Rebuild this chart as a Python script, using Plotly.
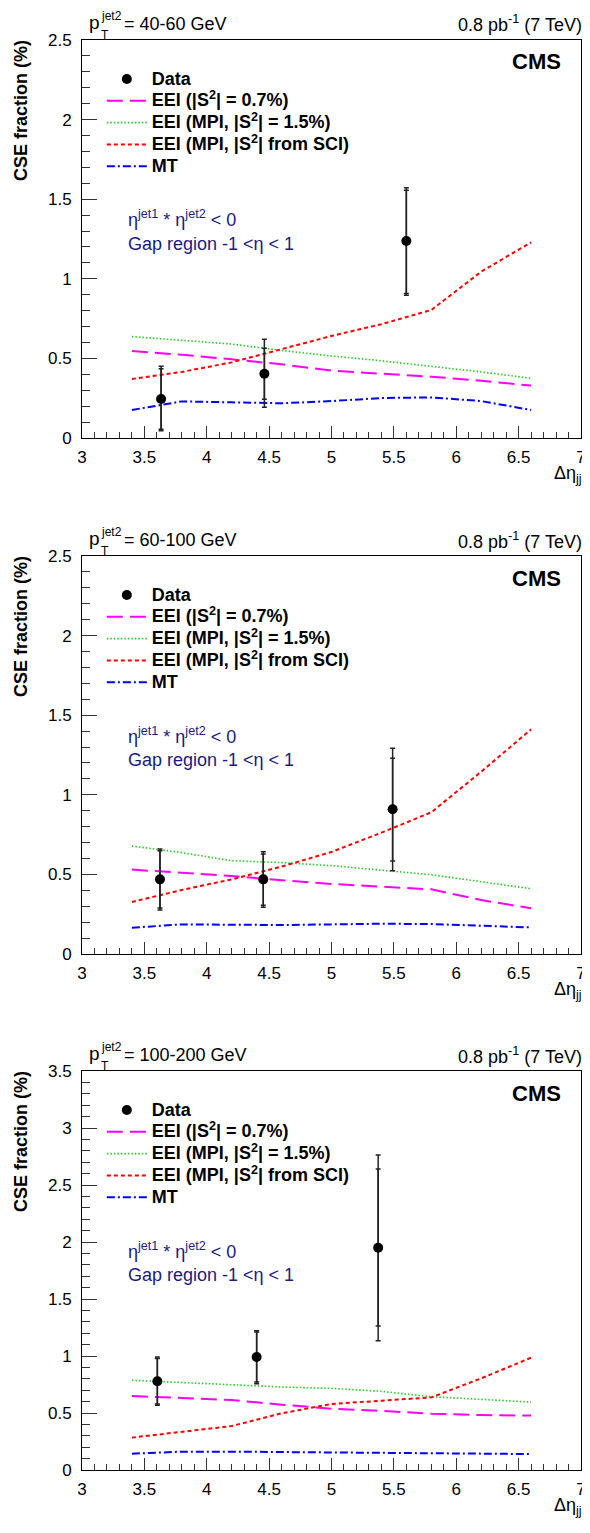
import plotly.graph_objects as go

W, H = 590, 1533
OFF = 8  # default body margin of the html page
# plot frame in page pixels
PL, PR = 82, 585
panel_tops = [40, 556, 1071]
panel_bots = [438, 954, 1470]

ML = PL - OFF
MR = W - (PR - OFF)
MT = panel_tops[0] - OFF
MB = H - (panel_bots[-1] - OFF)
PW = W - ML - MR
PH = H - MT - MB
FONT = "Liberation Sans, Arial, sans-serif"
NAVY = "#1b1b80"

# ---------------- data ----------------
pt_bins = ["40-60", "60-100", "100-200"]
y_max = [2.5, 2.5, 3.5]

curve_x = [3.4, 3.8, 4.2, 4.6, 5.0, 5.4, 5.8, 6.2, 6.6]

# panel 1 : 40-60 GeV
eei07_1 = [0.546, 0.523, 0.494, 0.463, 0.423, 0.406, 0.385, 0.360, 0.329]
eei15_1 = [0.637, 0.615, 0.590, 0.550, 0.515, 0.485, 0.450, 0.415, 0.375]
eeisci_1 = [0.371, 0.415, 0.475, 0.560, 0.641, 0.715, 0.804, 1.045, 1.229]
mt_1 = [0.176, 0.230, 0.224, 0.218, 0.232, 0.251, 0.255, 0.232, 0.176]
data_x_1 = [3.634, 4.462, 5.600]
data_y_1 = [0.245, 0.404, 1.237]
tot_up_1 = [0.205, 0.216, 0.335]
tot_dn_1 = [0.200, 0.211, 0.340]
stat_up_1 = [0.190, 0.160, 0.320]
stat_dn_1 = [0.190, 0.160, 0.330]

# panel 2 : 60-100 GeV
eei07_2 = [0.530, 0.511, 0.490, 0.463, 0.440, 0.423, 0.406, 0.339, 0.287]
eei15_2 = [0.678, 0.637, 0.586, 0.574, 0.555, 0.528, 0.498, 0.454, 0.410]
eeisci_2 = [0.327, 0.402, 0.469, 0.549, 0.641, 0.762, 0.890, 1.145, 1.411]
mt_2 = [0.165, 0.186, 0.184, 0.182, 0.186, 0.190, 0.188, 0.178, 0.167]
data_x_2 = [3.625, 4.453, 5.490]
data_y_2 = [0.469, 0.469, 0.909]
tot_up_2 = [0.190, 0.174, 0.383]
tot_dn_2 = [0.193, 0.176, 0.386]
stat_up_2 = [0.180, 0.159, 0.320]
stat_dn_2 = [0.180, 0.162, 0.325]

# panel 3 : 100-200 GeV
eei07_3 = [0.649, 0.629, 0.614, 0.573, 0.538, 0.518, 0.494, 0.482, 0.477]
eei15_3 = [0.787, 0.766, 0.746, 0.728, 0.716, 0.690, 0.643, 0.620, 0.596]
eeisci_3 = [0.284, 0.336, 0.386, 0.497, 0.579, 0.608, 0.637, 0.804, 0.985]
mt_3 = [0.143, 0.161, 0.161, 0.158, 0.158, 0.155, 0.152, 0.146, 0.140]
data_x_3 = [3.604, 4.400, 5.374]
data_y_3 = [0.778, 0.991, 1.950]
tot_up_3 = [0.213, 0.231, 0.813]
tot_dn_3 = [0.211, 0.234, 0.816]
stat_up_3 = [0.200, 0.220, 0.690]
stat_dn_3 = [0.200, 0.220, 0.687]

panels = [
    dict(eei07=eei07_1, eei15=eei15_1, eeisci=eeisci_1, mt=mt_1, dx=data_x_1, dy=data_y_1,
         tu=tot_up_1, td=tot_dn_1, su=stat_up_1, sd=stat_dn_1),
    dict(eei07=eei07_2, eei15=eei15_2, eeisci=eeisci_2, mt=mt_2, dx=data_x_2, dy=data_y_2,
         tu=tot_up_2, td=tot_dn_2, su=stat_up_2, sd=stat_dn_2),
    dict(eei07=eei07_3, eei15=eei15_3, eeisci=eeisci_3, mt=mt_3, dx=data_x_3, dy=data_y_3,
         tu=tot_up_3, td=tot_dn_3, su=stat_up_3, sd=stat_dn_3),
]

names = ["Data", "EEI (|S<sup>2</sup>| = 0.7%)", "EEI (MPI, |S<sup>2</sup>| = 1.5%)",
         "EEI (MPI, |S<sup>2</sup>| from SCI)", "MT"]


def big(label):
    return '<span style="font-size:18px">' + label + '</span>'


def px_x(px):
    return (px - OFF - ML) / PW


def px_y(py):
    return (H - MB - (py - OFF)) / PH


fig = go.Figure()
annotations = []
layout = {}

for i, p in enumerate(panels):
    k = "" if i == 0 else str(i + 1)
    xa, ya = "x" + k, "y" + k
    leg = "legend" + k
    styles = [
        ("eei07", names[1], "#ff00ff", "16px,7px", 2.0),
        ("eei15", names[2], "#22cc22", "1.5px,2px", 1.6),
        ("eeisci", names[3], "#ff0000", "4px,3px", 2.0),
        ("mt", names[4], "#0000ff", "8px,3px,2px,3px", 2.0),
    ]
    for rank, (key, nm, col, dash, wd) in enumerate(styles, start=2):
        fig.add_trace(go.Scatter(
            x=curve_x, y=p[key], mode="lines", name=big(nm), legend=leg, legendrank=rank,
            line=dict(color=col, dash=dash, width=wd), xaxis=xa, yaxis=ya,
            hoverinfo="skip"))
    # stat error caps (inner ticks)
    fig.add_trace(go.Scatter(
        x=p["dx"], y=p["dy"], mode="markers", showlegend=False, legend=leg,
        marker=dict(size=1, color="rgba(0,0,0,0)"),
        error_y=dict(type="data", symmetric=False, array=p["su"], arrayminus=p["sd"],
                     color="#222222", thickness=1.5, width=2.5),
        xaxis=xa, yaxis=ya, hoverinfo="skip"))
    # data with total errors
    fig.add_trace(go.Scatter(
        x=p["dx"], y=p["dy"], mode="markers", name=big(names[0]), legend=leg, legendrank=1,
        marker=dict(size=10, color="black", symbol="circle"),
        error_y=dict(type="data", symmetric=False, array=p["tu"], arrayminus=p["td"],
                     color="#222222", thickness=1.5, width=2.5),
        xaxis=xa, yaxis=ya))

    top, bot = panel_tops[i], panel_bots[i]
    dom = [px_y(bot), px_y(top)]
    layout["xaxis" + k] = dict(
        domain=[0, 1], range=[3, 7], anchor=ya, dtick=0.5, tick0=3,
        ticks="inside", ticklen=12, tickwidth=1, tickcolor="#333",
        minor=dict(ticks="inside", ticklen=6, dtick=0.1, tickcolor="#333", tickwidth=1),
        showline=True, linecolor="black", linewidth=1, mirror=True,
        showgrid=False, zeroline=False, ticklabelstandoff=4, ticklabeloverflow="allow",
        tickfont=dict(size=17, color="black", family=FONT))
    layout["yaxis" + k] = dict(
        domain=dom, range=[0, y_max[i]], anchor=xa, dtick=0.5, tick0=0,
        ticks="inside", ticklen=15, tickwidth=1, tickcolor="#333",
        minor=dict(ticks="inside", ticklen=8, dtick=0.1, tickcolor="#333", tickwidth=1),
        showline=True, linecolor="black", linewidth=1, mirror=True,
        showgrid=False, zeroline=False, ticklabelstandoff=6, ticklabeloverflow="allow",
        tickfont=dict(size=17, color="black", family=FONT))
    layout[leg] = dict(
        x=px_x(102), y=px_y(top + 23), xanchor="left", yanchor="top",
        bgcolor="rgba(0,0,0,0)", itemwidth=40, traceorder="normal",
        font=dict(size=14.5, color="black", family=FONT, weight="bold"),
        tracegroupgap=0)

    def ann(text, x, y, size=18, color="black", xanchor="left", yanchor="middle", **kw):
        annotations.append(dict(text=text, x=px_x(x), y=px_y(y), xref="paper", yref="paper",
                                showarrow=False, xanchor=xanchor, yanchor=yanchor,
                                font=dict(size=size, color=color, family=FONT,
                                          weight=kw.pop("weight", "normal")), **kw))

    # header: p_T^jet2 = ... GeV
    ann("p", 87, top - 18, size=19)
    ann("jet2", 99, top - 24, size=12)
    ann("T", 99, top - 5, size=12)
    ann("= " + pt_bins[i] + " GeV", 122, top - 16, size=18)
    ann("0.8 pb<sup>-1</sup> (7 TeV)", 588, top - 16, size=18, xanchor="right")
    ann("CMS", 567, top + 22, size=22, xanchor="right", weight="bold")
    ann("η<sup>jet1</sup> * η<sup>jet2</sup> < 0", 126, top + 179, size=18, color=NAVY)
    ann("Gap region -1 <η < 1", 126, top + 204, size=18, color=NAVY)
    ann("Δη<sub>jj</sub>", 588, bot + 36, size=18, xanchor="right")
    ann("CSE fraction (%)", 20, top - 2, size=18, xanchor="center", yanchor="top",
        textangle=-90, weight="bold")

fig.update_layout(
    width=W, height=H,
    margin=dict(l=ML, r=MR, t=MT, b=MB),
    paper_bgcolor="white", plot_bgcolor="white",
    font=dict(family=FONT, color="black"),
    annotations=annotations,
    **layout)

fig.write_html("out.html")
